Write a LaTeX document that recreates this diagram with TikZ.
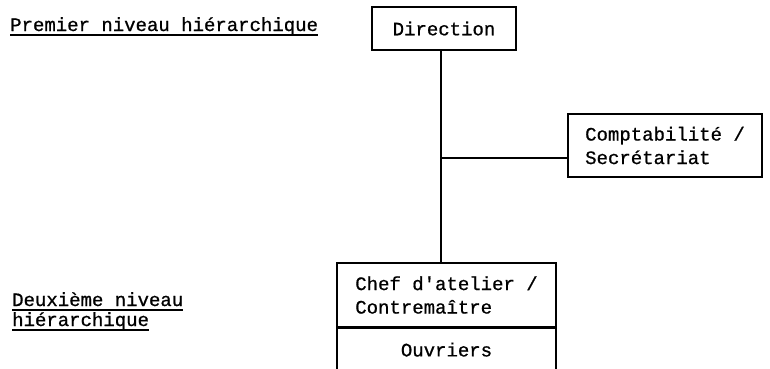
\documentclass[tikz,border=0pt]{standalone}
\usepackage{fontspec}
\newfontfamily\tw[FakeBold=0.8]{Liberation Mono}
\begin{document}
\begin{tikzpicture}[x=1pt,y=-1pt,
  every node/.style={font=\tw\fontsize{19}{23.5}\selectfont},
  box/.style={draw, line width=1.1pt, rectangle, inner sep=0pt},
  lbl/.style={anchor=base west, inner sep=0pt},
  conn/.style={line width=1.2pt},
  uline/.style={line width=1.2pt}]
\useasboundingbox (0,0) rectangle (770,368);
% labels
\node[lbl] (l1) at (10,31) {Premier niveau hiérarchique};
\node[lbl] (l2a) at (12,306) {Deuxième niveau};
\node[lbl] (l2b) at (12,326) {hiérarchique};
\draw[uline] ([yshift=-4pt]l1.base west) -- ([yshift=-4pt]l1.base east);
\draw[uline] ([yshift=-4pt]l2a.base west) -- ([yshift=-4pt]l2a.base east);
\draw[uline] ([yshift=-4pt]l2b.base west) -- ([yshift=-4pt]l2b.base east);
% boxes
\node[box, minimum width=144pt, minimum height=43pt] (dir) at (444,28.5) {Direction};
\node[box, minimum width=194pt, minimum height=63pt, align=left] (cpt) at (665,145.5) {Comptabilité /\\Secrétariat};
\node[box, minimum width=219pt, minimum height=64pt, align=left] (chef) at (446.5,295) {Chef d'atelier /\\Contremaître};
\node[box, minimum width=219pt, minimum height=43pt, anchor=north] (ouv) at (chef.south) {Ouvriers};
% connectors
\coordinate (j) at (441,158);
\draw[conn] (dir.south -| j) -- (chef.north -| j);
\draw[conn] (j) -- (cpt.west |- j);
\end{tikzpicture}
\end{document}
